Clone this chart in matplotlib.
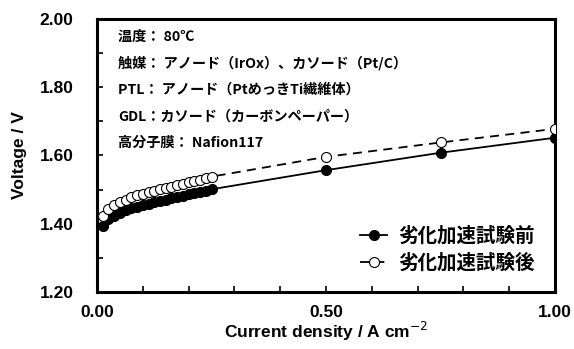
import matplotlib
matplotlib.use("Agg")
import matplotlib.pyplot as plt
from matplotlib.ticker import MultipleLocator, FormatStrFormatter
from matplotlib.font_manager import FontProperties

# ======== data ========
current = [0.0125, 0.025, 0.0375, 0.05, 0.0625, 0.075, 0.0875, 0.1, 0.1125, 0.125,
           0.1375, 0.15, 0.1625, 0.175, 0.1875, 0.2, 0.2125, 0.225, 0.2375, 0.25,
           0.5, 0.75, 1.0]
v_before = [1.393, 1.413, 1.424, 1.432, 1.439, 1.445, 1.450, 1.455, 1.459, 1.463,
            1.467, 1.471, 1.475, 1.478, 1.482, 1.486, 1.489, 1.493, 1.497, 1.501,
            1.557, 1.608, 1.652]
v_after = [1.423, 1.443, 1.455, 1.464, 1.471, 1.477, 1.483, 1.488, 1.493, 1.497,
           1.501, 1.505, 1.509, 1.513, 1.517, 1.521, 1.525, 1.529, 1.533, 1.538,
           1.596, 1.638, 1.678]
series_names = ["劣化加速試験前", "劣化加速試験後"]
notes = [
    "温度： 80℃",
    "触媒： アノード（IrOx）、カソード（Pt/C）",
    "PTL： アノード（PtめっきTi繊維体）",
    "GDL：カソード（カーボンペーパー）",
    "高分子膜： Nafion117",
]

bold_font = FontProperties(family="Liberation Sans", weight="bold", size=12.5)
plt.rcParams["mathtext.fontset"] = "custom"
plt.rcParams["mathtext.rm"] = "Liberation Sans:bold"
plt.rcParams["mathtext.bf"] = "Liberation Sans:bold"
jp = ["Noto Sans CJK JP", "DejaVu Sans"]

fig = plt.figure(figsize=(5.74, 3.49), dpi=100)
ax = fig.add_axes([0.169, 0.163, 0.798, 0.783])

ax.plot(current, v_before, "-", color="black", lw=1.3, marker="o", ms=7.2,
        mfc="black", mec="black", mew=0.8, label=series_names[0], zorder=3)
ax.plot(current, v_after, color="black", lw=1.3, ls=(0, (5, 3.5)), marker="o", ms=7.2,
        mfc="white", mec="black", mew=0.8, label=series_names[1], zorder=4)

ax.set_xlim(0, 1.0)
ax.set_ylim(1.2, 2.0)
ax.xaxis.set_major_locator(MultipleLocator(0.5))
ax.xaxis.set_minor_locator(MultipleLocator(0.1))
ax.yaxis.set_major_locator(MultipleLocator(0.2))
ax.yaxis.set_minor_locator(MultipleLocator(0.1))
ax.xaxis.set_major_formatter(FormatStrFormatter("%.2f"))
ax.yaxis.set_major_formatter(FormatStrFormatter("%.2f"))
ax.tick_params(which="both", direction="in", length=4, width=1.2)
ax.tick_params(axis="x", pad=9)
ax.tick_params(axis="y", pad=17)
fig.canvas.draw()
for lab in ax.get_xticklabels() + ax.get_yticklabels():
    lab.set_fontproperties(bold_font)

for s in ax.spines.values():
    s.set_linewidth(2.2)

ax.set_xlabel("Current density / A cm$^{-2}$", fontproperties=bold_font, labelpad=0)
ax.set_ylabel("Voltage / V", fontproperties=bold_font, labelpad=9)

for i, t in enumerate(notes):
    fig.text(118 / 574, 1 - (37 + i * 26.5) / 349, t, family=jp, fontsize=10.2,
             fontweight="bold", va="center", ha="left")

leg = ax.legend(loc="lower right", bbox_to_anchor=(0.985, 0.02), frameon=False,
                prop={"family": jp, "size": 14, "weight": "bold"},
                handlelength=1.4, handletextpad=0.55, labelspacing=0.4, borderpad=0.2)

fig.savefig("out.png", dpi=100)
